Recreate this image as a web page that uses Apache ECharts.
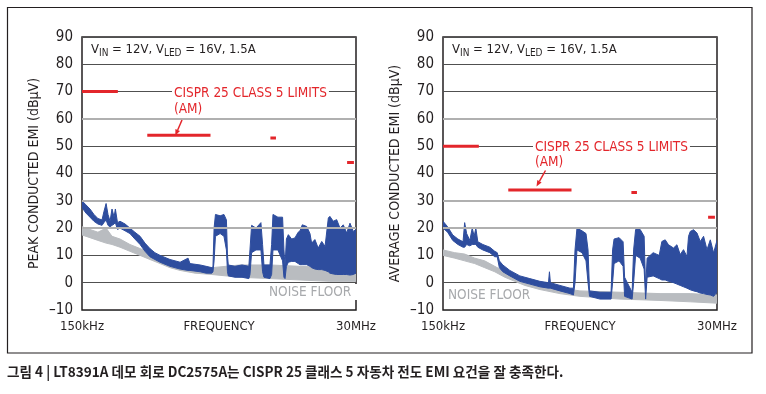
<!DOCTYPE html>
<html><head><meta charset="utf-8">
<script src="https://cdn.jsdelivr.net/npm/echarts@6.0.0/dist/echarts.min.js"></script>
<style>html,body{margin:0;padding:0;background:#fff}#c{width:766px;height:394px}</style>
</head><body><div id="c"></div>
<script>
// ---------- DATA (frequency in MHz, level in dBuV) ----------
const xTickLabels = ['150kHz', '30MHz'];
const xName = 'FREQUENCY';
const yMin = -10, yMax = 90, yStep = 10;

const limitStartMHz = [0.15, 0.53, 5.9, 26];
const limitEndMHz   = [0.3, 1.8, 6.2, 28];
const peakLimitDbuv = [70, 54, 53, 44];
const avgLimitDbuv  = [50, 34, 33, 24];

// Peak conducted EMI (envelope of the blue trace)
const peakFreqMHz = [0.150,0.162,0.175,0.189,0.204,0.221,0.229,0.239,0.248,0.258,0.268,0.279,0.286,0.298,0.313,0.345,0.379,0.417,0.461,0.507,0.558,0.614,0.679,0.822,1.000,1.166,1.210,1.472,1.654,1.849,1.888,1.929,1.981,2.168,2.334,2.448,2.499,2.539,2.885,3.311,3.778,3.860,3.985,4.338,4.771,4.926,5.058,5.683,5.867,6.024,6.627,7.253,7.447,7.607,7.81,8.11,8.64,9.206,9.81,10.16,10.62,11.56,12.32,12.72,13.55,14.44,15.47,16.49,17.57,18.1,19.32,20.65,22.02,23.46,25.07,26.70,28.46,30.0];
const peakEmiLow  = [27.5,25.5,24,22.5,21.5,21,22,23,21,20.5,21,21.5,22,19.5,20,19,18,16,14,11.5,9.5,8.5,7.5,6,5,4.5,4.5,4,3.5,3.5,4,8,17,18,17,12,4,2.5,2,2,1.5,3,11,12,12,4,2,1.5,3,12,12,8,2,1.5,6,7.5,7.8,7.8,7,6.6,6.6,6.6,6,5.5,5,4.8,4.8,4.5,4,3.5,3.2,3,3,3,3,2.8,3,3.5];
const peakEmiHigh = [30,28.5,27,25,23.5,23,26,29,25,22.5,27,24,27,22,22.5,21.5,20,18.5,17,14.5,12.5,11,10,8.5,7.5,9,7,6.5,6,5.5,6,20,25,24.5,25,23,10,6.5,6,6.5,6,12,21,20,22,14,6.5,6.5,14,25,24,24,12,6,16,17.6,16,16.4,18.5,19,21.2,20.6,18,14.5,15.8,12.7,15.1,13.3,23.7,24.3,22.5,23.1,20,21.2,18.2,21.8,18.8,19.5];

// Peak noise floor (grey)
const peakNoiseFreqMHz = [0.150,0.175,0.204,0.239,0.268,0.313,0.379,0.461,0.558,0.679,0.822,1.000,1.334,1.849,3.18,5.683,10.16,18.1,30.0];
const peakNoiseLow  = [17.5,16.5,15.5,14.5,14,13,11.5,10,8.5,7,5.5,4.5,3.5,3,2,1.5,1,0.5,0.5];
const peakNoiseHigh = [20.5,19.5,18.5,20,17,16,14,12.5,11,9.5,8,7,6,5.5,6.5,6.5,6,5.5,5];

// Average conducted EMI (envelope of the blue trace)
const avgFreqMHz = [0.150,0.164,0.181,0.200,0.221,0.228,0.237,0.252,0.264,0.274,0.283,0.294,0.324,0.371,0.408,0.428,0.446,0.477,0.546,0.663,0.804,0.977,1.153,1.175,1.197,1.439,1.748,1.868,1.926,2.001,2.205,2.383,2.478,2.551,3.126,3.869,3.984,4.10,4.518,4.881,5.025,5.811,5.982,6.219,6.788,7.332,7.548,7.77,8.73,9.81,10.33,11.02,11.74,12.94,13.82,14.73,15.70,16.78,17.3,17.9,19.07,20.37,21.71,23.14,24.72,26.36,28.1,30.0];
const avgEmiLow  = [20,18.5,15.5,14,13,13,14,13.5,14,14,14,13,12,11,9.5,9.5,5.5,4,2.5,0.5,-0.5,-1.5,-2,-2,-2,-3,-4,-4.5,0,12,11,8,0,-5,-6,-6,0,7,8,6,-5,-6,0,10,9,5,-6,2,2.5,1.5,1,1,0.5,0,-0.5,-1,-1.5,-2,-2.3,-2.6,-3,-3.3,-3.8,-4,-4.3,-4.5,-5,-3.5];
const avgEmiHigh = [22.5,20.5,17.5,16,15,22,18,15.5,20,17,20,15,14,13,11.5,11,8,6.5,4.5,2.5,1.5,0.5,0,4,0,-1,-2,-2,12,20,19,18,12,-3,-3.5,-3.5,12,16,16.5,15,2,-3.5,12,19.5,19.5,17,-2,9,11,10,15.1,15.7,13.9,12.7,13.9,10.3,12.1,9.6,17,18.8,19.4,18.2,15.1,17,12.1,15.7,10.9,15.5];

// Average noise floor (grey)
const avgNoiseFreqMHz = [0.150,0.188,0.228,0.277,0.336,0.408,0.496,0.602,0.731,0.977,1.439,2.12,4.60,9.968,17.9,30.0];
const avgNoiseLow  = [10,9,8,7,5.5,4,2,0.5,-1,-2.5,-4,-5,-6,-6.5,-7,-7.5];
const avgNoiseHigh = [12,11,10.5,9,8,6,4,2.5,1,-0.5,-2,-3,-3.5,-4,-4,-4.5];

// ---------- STYLE ----------
const FONT = '"Liberation Sans Narrow","Arial Narrow","DejaVu Sans Condensed",sans-serif';
const INK = '#231f20';
const BLUE = '#2e4d9e';
const GREY = '#b9bcc0';
const RED = '#e3262b';
const DARK_GRID = '#505050';
const LIGHT_GRID = '#b0b0b0';

const gridBoxes = [
  {left: 82, top: 37, width: 274, height: 273},
  {left: 443, top: 37, width: 274, height: 273}
];
const yNames = ['PEAK CONDUCTED EMI (dB\u03bcV)', 'AVERAGE CONDUCTED EMI (dB\u03bcV)'];

function near(a, b) { return Math.abs(a - b) < 1e-6 * Math.max(1, Math.abs(b)); }

const splitColors = [];
for (let v = yMin; v <= yMax; v += yStep) {
  splitColors.push((v === 20 || v === 30 || v === 60) ? LIGHT_GRID : DARK_GRID);
}

// band between low and high envelopes, drawn through the axis scales
function bandSeries(gi, freqs, lo, hi, color, z) {
  return {
    type: 'custom', xAxisIndex: gi, yAxisIndex: gi, z: z, silent: true, animation: false, clip: true,
    encode: {x: 0, y: 1},
    data: [[freqs[0], lo[0]]],
    renderItem: function (params, api) {
      const pts = [];
      for (let i = 0; i < freqs.length; i++) pts.push(api.coord([freqs[i], hi[i]]));
      for (let i = freqs.length - 1; i >= 0; i--) pts.push(api.coord([freqs[i], lo[i]]));
      return {type: 'polygon', shape: {points: pts},
        style: {fill: color, stroke: color, lineWidth: 1, lineJoin: 'round'}};
    }
  };
}

function limitSeries(gi, levels) {
  return limitStartMHz.map((s, i) => ({
    type: 'line', xAxisIndex: gi, yAxisIndex: gi, symbol: 'none', silent: true, animation: false, z: 6,
    data: [[s, levels[i]], [limitEndMHz[i], levels[i]]],
    lineStyle: {color: RED, width: 3, cap: (limitEndMHz[i] / s < 1.2) ? 'square' : 'butt'}
  }));
}

function lightGridSeries(gi) {
  return {
    type: 'line', xAxisIndex: gi, yAxisIndex: gi, data: [], silent: true, animation: false, z: 1,
    markLine: {silent: true, symbol: 'none', label: {show: false}, animation: false,
      lineStyle: {color: LIGHT_GRID, width: 2, type: 'solid'},
      data: [{yAxis: 20}, {yAxis: 30}, {yAxis: 60}]}
  };
}

const series = [].concat(
  lightGridSeries(0), lightGridSeries(1),
  bandSeries(0, peakNoiseFreqMHz, peakNoiseLow, peakNoiseHigh, GREY, 3),
  bandSeries(0, peakFreqMHz, peakEmiLow, peakEmiHigh, BLUE, 4),
  bandSeries(1, avgNoiseFreqMHz, avgNoiseLow, avgNoiseHigh, GREY, 3),
  bandSeries(1, avgFreqMHz, avgEmiLow, avgEmiHigh, BLUE, 4),
  limitSeries(0, peakLimitDbuv), limitSeries(1, avgLimitDbuv)
);

const xAxes = [0, 1].map(gi => ({
  type: 'log', logBase: 10, gridIndex: gi, min: 0.15, max: 30,
  axisLine: {show: false}, axisTick: {show: false}, splitLine: {show: false},
  axisLabel: {show: true, showMinLabel: true, showMaxLabel: true, margin: 10, color: INK,
    fontFamily: FONT, fontSize: 13,
    formatter: v => near(v, 0.15) ? xTickLabels[0] : (near(v, 30) ? xTickLabels[1] : '')},
  name: xName, nameLocation: 'middle', nameGap: 10, nameMoveOverlap: false,
  nameTextStyle: {color: INK, fontFamily: FONT, fontSize: 13, verticalAlign: 'top'}
}));

const yAxes = [0, 1].map(gi => ({
  type: 'value', gridIndex: gi, min: yMin, max: yMax, interval: yStep,
  axisLine: {show: false}, axisTick: {show: false},
  axisLabel: {color: INK, fontFamily: FONT, fontSize: 15, margin: 9,
    formatter: v => (v < 0 ? '\u2013' + Math.abs(v) : String(v))},
  splitLine: {show: true, lineStyle: {color: splitColors, width: 1}},
  name: yNames[gi], nameLocation: 'middle', nameGap: 41, nameRotate: 90, nameMoveOverlap: false,
  nameTextStyle: {color: INK, fontFamily: FONT, fontSize: 14}
}));

function vText(x) {
  return {
    type: 'text', x: x, y: 43, z: 20,
    style: {
      text: '{a|V}{b|IN}{a| = 12V, V}{b|LED}{a| = 16V, 1.5A}',
      verticalAlign: 'top',
      rich: {
        a: {fontFamily: FONT, fontSize: 13, fill: INK, lineHeight: 15, verticalAlign: 'top'},
        b: {fontFamily: FONT, fontSize: 10, fill: INK, lineHeight: 11, verticalAlign: 'bottom', padding: [6, 0, 0, 0]}
      }
    }
  };
}

function arrow(tail, base, p1, tip, p2) {
  return [
    {type: 'line', z: 20, shape: {x1: tail[0], y1: tail[1], x2: base[0], y2: base[1]},
      style: {stroke: RED, lineWidth: 1.5}},
    {type: 'polygon', z: 20, shape: {points: [p1, tip, p2]}, style: {fill: RED}}
  ];
}

const graphics = [
  {type: 'rect', z: 0, shape: {x: 7.5, y: 7.5, width: 744.5, height: 345.5},
    style: {stroke: INK, lineWidth: 1.2, fill: 'none'}},
  vText(91), vText(452),
  {type: 'text', x: 172, y: 93.5, z: 20, style: {text: 'CISPR 25 CLASS 5 LIMITS', fill: RED,
    fontFamily: FONT, fontSize: 13.5, verticalAlign: 'middle', backgroundColor: '#fff', padding: [1, 2, 1, 2]}},
  {type: 'text', x: 174, y: 109.5, z: 20, style: {text: '(AM)', fill: RED,
    fontFamily: FONT, fontSize: 13.5, verticalAlign: 'middle'}},
  {type: 'text', x: 533, y: 147, z: 20, style: {text: 'CISPR 25 CLASS 5 LIMITS', fill: RED,
    fontFamily: FONT, fontSize: 13.5, verticalAlign: 'middle', backgroundColor: '#fff', padding: [1, 2, 1, 2]}},
  {type: 'text', x: 535, y: 162, z: 20, style: {text: '(AM)', fill: RED,
    fontFamily: FONT, fontSize: 13.5, verticalAlign: 'middle'}},
  ...arrow([182, 120], [177.7, 130], [180, 131], [175.3, 135.5], [175.4, 129]),
  ...arrow([545.5, 170.5], [539.4, 181.3], [541.6, 182.5], [536.5, 186.5], [537.3, 180]),
  {type: 'text', x: 267, y: 292, z: 20, style: {text: 'NOISE FLOOR', fill: '#a7a9ac',
    fontFamily: FONT, fontSize: 13.5, verticalAlign: 'middle', backgroundColor: '#fff', padding: [2, 7, 0, 2]}},
  {type: 'text', x: 448, y: 295.5, z: 20, style: {text: 'NOISE FLOOR', fill: '#a7a9ac',
    fontFamily: FONT, fontSize: 13.5, verticalAlign: 'middle'}},
  {type: 'text', x: 7, y: 372, z: 20, scaleX: 0.97,
    style: {text: '그림 4 | LT8391A 데모 회로 DC2575A는 CISPR 25 클래스 5 자동차 전도 EMI 요건을 잘 충족한다.',
      fill: INK, fontFamily: '"Noto Sans CJK KR", sans-serif', fontWeight: 'bold', fontSize: 14,
      verticalAlign: 'middle'}}
];

const chart = echarts.init(document.getElementById('c'), null, {renderer: 'canvas'});
chart.setOption({
  backgroundColor: '#fff',
  animation: false,
  grid: gridBoxes.map(g => Object.assign({show: true, borderColor: INK, borderWidth: 1.5,
    backgroundColor: 'transparent', containLabel: false}, g)),
  xAxis: xAxes,
  yAxis: yAxes,
  series: series,
  graphic: graphics
});
</script></body></html>
